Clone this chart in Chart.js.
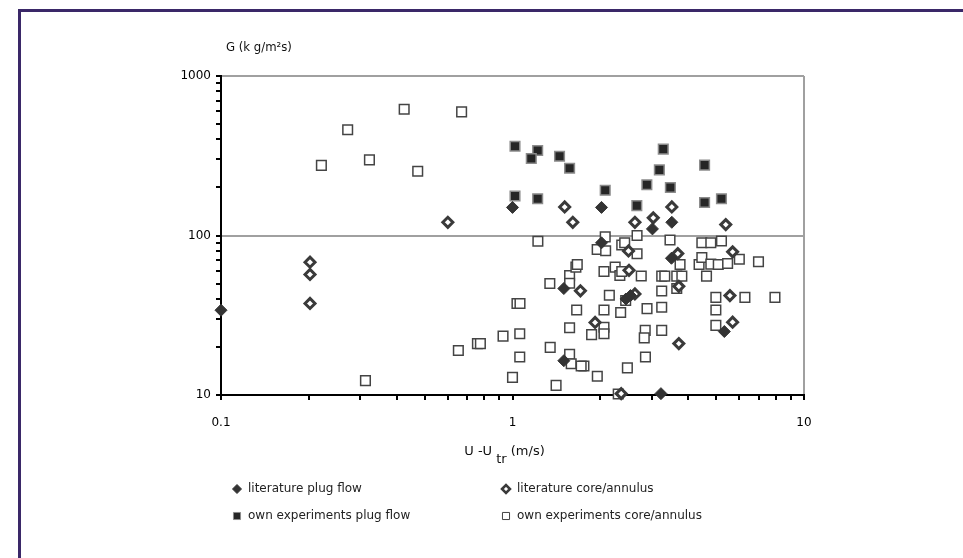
<!DOCTYPE html>
<html>
<head>
<meta charset="utf-8">
<script src="https://cdn.jsdelivr.net/npm/chart.js@4.4.1/dist/chart.umd.min.js"></script>
<style>
    body { margin: 0; background: #fff; }
    #wrap { position: relative; width: 963px; height: 558px; overflow: hidden; }
    #frame { position: absolute; left: 18px; top: 9px; right: -5px; bottom: -5px;
             border-top: 3px solid #3a2868; border-left: 3px solid #3a2868; pointer-events: none; }
</style>
</head>
<body>
<div id="wrap">
    <canvas id="chart" width="963" height="558"></canvas>
    <div id="frame"></div>
</div>
<script>
"use strict";

// tick labels
const xTickLabels = [0.1, 1, 10];
const yTickLabels = [10, 100, 1000];

// literature, plug flow
const litPlugX = [0.1, 1.0, 2.02, 3.52, 3.02, 2.02, 3.51, 1.5, 2.45, 2.54, 5.33, 1.5, 3.23];
const litPlugY = [34, 150, 150, 121, 110, 90, 72, 46.5, 40, 42, 25, 16.4, 10.2];

// literature, core/annulus
const litCoreX = [0.202, 0.202, 0.202, 0.6, 1.51, 1.61, 2.63, 3.04, 3.52, 5.39, 2.5, 3.69, 5.69,
    2.51, 1.71, 2.63, 3.72, 5.57, 1.92, 5.69, 3.72, 2.36];
const litCoreY = [68, 57, 37.5, 121, 151, 121, 121, 129, 151, 117, 80, 77, 79,
    60.5, 45, 43, 48, 42, 28.5, 28.6, 21, 10.2];

// own experiments, plug flow
const ownPlugX = [1.02, 1.22, 1.16, 1.45, 1.57, 3.29, 3.19, 4.56, 1.02, 1.22, 2.08, 2.89, 3.48, 2.67, 4.56, 5.21];
const ownPlugY = [363, 341, 304, 314, 264, 348, 258, 276, 177, 170, 192, 208, 200, 154, 161, 170];

// own experiments, core/annulus
const ownCoreX = [0.221, 0.272, 0.323, 0.425, 0.473, 0.669, 0.313, 0.652, 0.758, 0.776,
    0.928, 1.0, 1.036, 1.061, 1.059, 1.059, 1.222, 1.343, 1.347, 1.411,
    1.57, 1.57, 1.57, 1.57, 1.59, 1.65, 1.668, 1.66, 1.758, 1.72,
    1.868, 1.954, 1.952, 2.08, 2.087, 2.06, 2.06, 2.06, 2.06, 2.149,
    2.25, 2.335, 2.37, 2.37, 2.426, 2.35, 2.445, 2.478, 2.305, 2.675,
    2.675, 2.765, 2.894, 2.853, 2.831, 2.858, 3.25, 3.33, 3.25, 3.25,
    3.25, 3.47, 3.66, 3.66, 3.81, 3.757, 4.366, 4.462, 4.462, 4.79,
    5.21, 4.79, 5.08, 5.47, 6.0, 6.98, 4.63, 4.985, 6.27, 7.95,
    4.985, 4.985];
const ownCoreY = [275, 460, 298, 619, 253, 596, 12.3, 19, 21, 21,
    23.4, 12.9, 37.5, 37.5, 24.2, 17.3, 92, 50, 19.9, 11.5,
    56, 50.2, 26.4, 18, 15.7, 63.3, 65.8, 34.1, 15.2, 15.2,
    23.9, 13.1, 81.7, 98, 80.2, 59.5, 34.1, 26.6, 24.2, 42.2,
    63.3, 56.1, 59.5, 87.2, 90, 32.9, 39.1, 14.8, 10.15, 100,
    76.8, 55.7, 34.8, 25.4, 22.8, 17.3, 55.6, 55.6, 44.9, 35.5,
    25.4, 93.7, 46.5, 55.6, 55.6, 65.8, 65.8, 72.8, 90, 90,
    92.4, 66.1, 65.8, 66.7, 71, 68.4, 55.6, 40.9, 40.9, 40.9,
    34.1, 27.3];

const seriesNames = ["literature plug flow", "literature core/annulus",
    "own experiments plug flow", "own experiments core/annulus"];

const yTitle = "G (k g/m\u00B2s)";
const FONT = '"DejaVu Sans", "Liberation Sans", sans-serif';

function toPoints(xs, ys) {
    return xs.map((x, i) => ({ x: x, y: ys[i] }));
}

// log ticks 1..9 x 10^k between the first and last label
function logTicks(labels) {
    const ticks = [];
    const lo = Math.round(Math.log10(labels[0]));
    const hi = Math.round(Math.log10(labels[labels.length - 1]));
    for (let k = lo; k < hi; k++) {
        for (let m = 1; m < 10; m++) {
            ticks.push(parseFloat((m * Math.pow(10, k)).toPrecision(6)));
        }
    }
    ticks.push(labels[labels.length - 1]);
    return ticks.map(v => ({ value: v, major: labels.includes(v) }));
}

const datasets = [
    {
        label: seriesNames[0],
        data: toPoints(litPlugX, litPlugY),
        pointStyle: "rectRot", pointRadius: 6,
        backgroundColor: "#333333", borderColor: "#333333", borderWidth: 1,
        legend: { radius: 4.5, fill: "#333333", stroke: "#333333", width: 1 }
    },
    {
        label: seriesNames[1],
        data: toPoints(litCoreX, litCoreY),
        pointStyle: "rectRot", pointRadius: 5,
        backgroundColor: "#ffffff", borderColor: "#3a3a3a", borderWidth: 3,
        legend: { radius: 4, fill: "#ffffff", stroke: "#3a3a3a", width: 2.5 }
    },
    {
        label: seriesNames[2],
        data: toPoints(ownPlugX, ownPlugY),
        pointStyle: "rect", pointRadius: 6.8,
        backgroundColor: "#262626", borderColor: "#8c8c8c", borderWidth: 1.5,
        legend: { radius: 5, fill: "#262626", stroke: "#8c8c8c", width: 1 }
    },
    {
        label: seriesNames[3],
        data: toPoints(ownCoreX, ownCoreY),
        pointStyle: "rect", pointRadius: 6.8,
        backgroundColor: "#ffffff", borderColor: "#444444", borderWidth: 1.5,
        legend: { radius: 5, fill: "#ffffff", stroke: "#444444", width: 1 }
    }
];
datasets.forEach(ds => { ds.clip = false; ds.pointHoverRadius = ds.pointRadius; });

// axeltitlar och förklaring ritas efter diagrammet
const textPlugin = {
    id: "textPlugin",
    afterDraw(chart) {
        const ctx = chart.ctx;
        const a = chart.chartArea;
        ctx.save();
        ctx.fillStyle = "#111111";
        ctx.textBaseline = "middle";
        ctx.textAlign = "left";

        // y title
        ctx.font = '13px "DejaVu Sans Condensed", ' + FONT;
        ctx.fillText(yTitle, a.left + 5, a.top - 28);

        // x title with subscript
        ctx.font = "13px " + FONT;
        const p1 = "U -U ", p3 = " (m/s)";
        const w1 = ctx.measureText(p1).width;
        const w2 = ctx.measureText("tr").width;
        const w3 = ctx.measureText(p3).width;
        const x = (a.left + a.right) / 2 - 8 - (w1 + w2 + w3) / 2;
        const y = a.bottom + 57;
        ctx.fillText(p1, x, y);
        ctx.fillText("tr", x + w1, y + 8);
        ctx.fillText(p3, x + w1 + w2, y);

        // legend 2x2
        ctx.font = "12px " + FONT;
        chart.data.datasets.forEach((ds, i) => {
            const lx = a.left + 16 + (i % 2) * 269;
            const ly = a.bottom + 94 + Math.floor(i / 2) * 27;
            ctx.fillStyle = ds.legend.fill;
            ctx.strokeStyle = ds.legend.stroke;
            ctx.lineWidth = ds.legend.width;
            Chart.helpers.drawPoint(ctx, {
                pointStyle: ds.pointStyle, rotation: 0,
                radius: ds.legend.radius, borderWidth: ds.legend.width
            }, lx, ly);
            ctx.fillStyle = "#222222";
            ctx.fillText(ds.label, lx + 11, ly);
        });
        ctx.restore();
    }
};

const ctxChart = document.getElementById("chart");
new Chart(ctxChart, {
    type: "scatter",
    data: { datasets: datasets },
    options: {
        responsive: false,
        animation: false,
        events: [],
        layout: { padding: { left: 150, right: 159, top: 76, bottom: 123 } },
        plugins: { legend: { display: false }, tooltip: { enabled: false } },
        scales: {
            x: {
                type: "logarithmic",
                min: xTickLabels[0],
                max: xTickLabels[xTickLabels.length - 1],
                afterBuildTicks: scale => { scale.ticks = logTicks(xTickLabels); },
                afterFit: scale => { scale.height = 40; },
                border: { display: true, color: "#000000", width: 2 },
                grid: {
                    color: c => (c.tick && c.tick.value === 10) ? "#a0a0a0" : "rgba(0,0,0,0)",
                    lineWidth: 2,
                    tickColor: "#000000",
                    tickWidth: 2,
                    tickLength: 5
                },
                ticks: {
                    autoSkip: false,
                    maxRotation: 0,
                    padding: 16,
                    color: "#000000",
                    font: { family: FONT, size: 12 },
                    callback: v => xTickLabels.includes(v) ? String(v) : ""
                }
            },
            y: {
                type: "logarithmic",
                min: yTickLabels[0],
                max: yTickLabels[yTickLabels.length - 1],
                afterBuildTicks: scale => { scale.ticks = logTicks(yTickLabels); },
                afterFit: scale => { scale.width = 71; },
                border: { display: true, color: "#000000", width: 2 },
                grid: {
                    color: c => (c.tick && c.tick.major) ? "#a0a0a0" : "rgba(0,0,0,0)",
                    lineWidth: 2,
                    tickColor: "#000000",
                    tickWidth: 2,
                    tickLength: 5
                },
                ticks: {
                    autoSkip: false,
                    padding: 5,
                    color: "#000000",
                    font: { family: FONT, size: 12 },
                    callback: v => yTickLabels.includes(v) ? String(v) : ""
                }
            }
        }
    },
    plugins: [textPlugin]
});
</script>
</body>
</html>
